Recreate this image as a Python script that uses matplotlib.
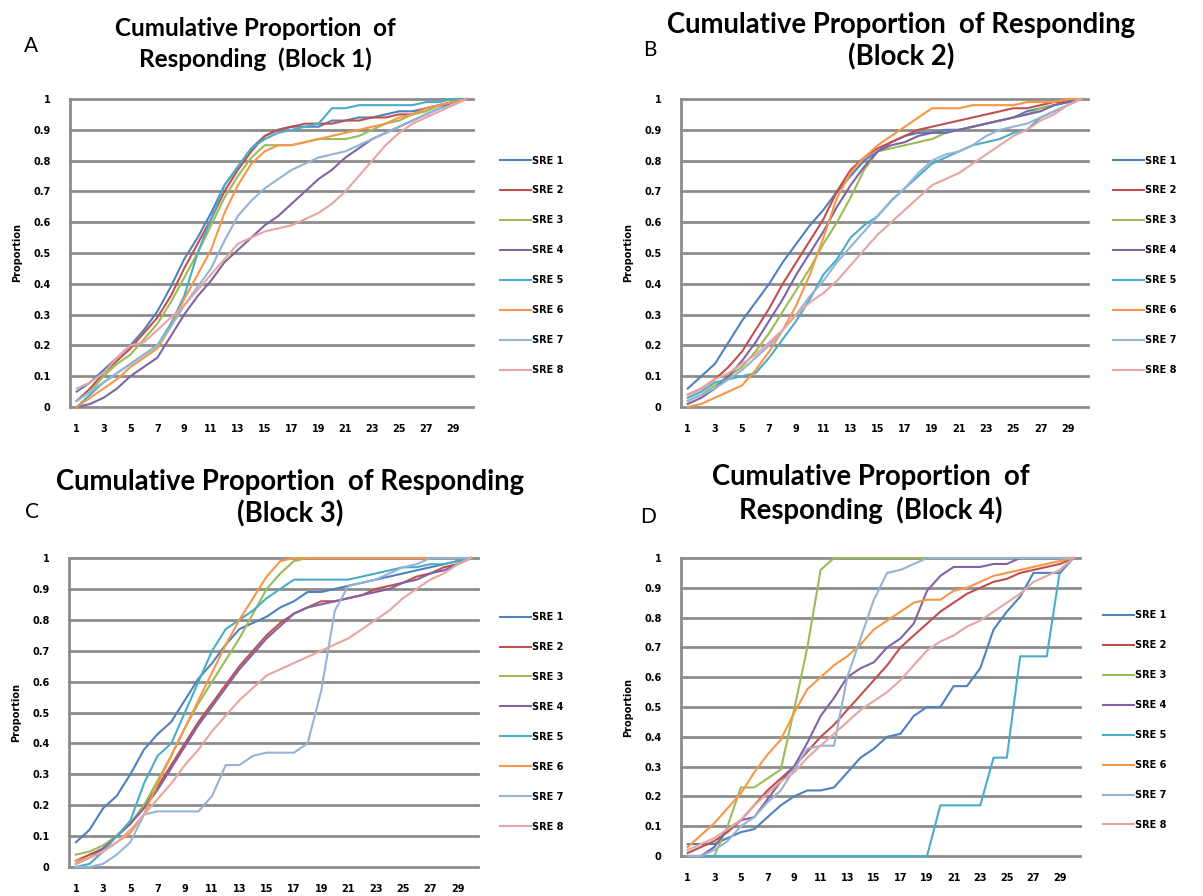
import numpy as np
import matplotlib
matplotlib.use('Agg')
import matplotlib.pyplot as plt

# trial numbers (categories on the x axis)
trials = np.arange(1, 31)
series_names = ['SRE 1', 'SRE 2', 'SRE 3', 'SRE 4', 'SRE 5', 'SRE 6', 'SRE 7', 'SRE 8']
series_colors = ['#4F81BD', '#C0504D', '#9BBB59', '#8064A2',
                 '#4BACC6', '#F79646', '#95B3D7', '#E6A5A3']

# Block 1
block1 = [
    [0.05, 0.08, 0.12, 0.16, 0.20, 0.25, 0.31, 0.39, 0.48, 0.55, 0.63, 0.72, 0.78, 0.84, 0.88,
     0.90, 0.91, 0.91, 0.91, 0.93, 0.93, 0.94, 0.94, 0.95, 0.96, 0.96, 0.97, 0.98, 0.99, 1.0],
    [0.02, 0.06, 0.11, 0.15, 0.19, 0.24, 0.29, 0.36, 0.45, 0.53, 0.61, 0.70, 0.77, 0.83, 0.88,
     0.90, 0.91, 0.92, 0.92, 0.92, 0.93, 0.93, 0.94, 0.94, 0.95, 0.95, 0.97, 0.98, 0.99, 1.0],
    [0.02, 0.05, 0.10, 0.14, 0.17, 0.22, 0.27, 0.34, 0.42, 0.50, 0.59, 0.68, 0.75, 0.81, 0.85,
     0.85, 0.85, 0.86, 0.87, 0.87, 0.87, 0.88, 0.90, 0.92, 0.93, 0.95, 0.96, 0.98, 0.99, 1.0],
    [0.00, 0.01, 0.03, 0.06, 0.10, 0.13, 0.16, 0.23, 0.30, 0.36, 0.41, 0.47, 0.51, 0.55, 0.59,
     0.62, 0.66, 0.70, 0.74, 0.77, 0.81, 0.84, 0.87, 0.89, 0.91, 0.93, 0.95, 0.97, 0.99, 1.0],
    [0.00, 0.04, 0.08, 0.11, 0.14, 0.17, 0.20, 0.27, 0.36, 0.50, 0.61, 0.72, 0.78, 0.84, 0.87,
     0.89, 0.90, 0.91, 0.92, 0.97, 0.97, 0.98, 0.98, 0.98, 0.98, 0.98, 0.99, 0.99, 1.0, 1.0],
    [0.00, 0.03, 0.06, 0.09, 0.13, 0.16, 0.19, 0.26, 0.35, 0.43, 0.51, 0.63, 0.72, 0.79, 0.83,
     0.85, 0.85, 0.86, 0.87, 0.88, 0.89, 0.90, 0.91, 0.92, 0.94, 0.95, 0.97, 0.98, 0.99, 1.0],
    [0.02, 0.05, 0.08, 0.11, 0.14, 0.17, 0.20, 0.26, 0.33, 0.39, 0.45, 0.54, 0.62, 0.67, 0.71,
     0.74, 0.77, 0.79, 0.81, 0.82, 0.83, 0.85, 0.87, 0.89, 0.91, 0.93, 0.95, 0.97, 0.98, 1.0],
    [0.06, 0.08, 0.11, 0.16, 0.20, 0.21, 0.25, 0.29, 0.33, 0.38, 0.43, 0.48, 0.53, 0.55, 0.57,
     0.58, 0.59, 0.61, 0.63, 0.66, 0.70, 0.75, 0.80, 0.85, 0.89, 0.92, 0.94, 0.96, 0.98, 1.0],
]

# Block 2
block2 = [
    [0.06, 0.10, 0.14, 0.21, 0.28, 0.34, 0.40, 0.47, 0.53, 0.59, 0.64, 0.70, 0.75, 0.80, 0.83,
     0.86, 0.88, 0.89, 0.89, 0.90, 0.90, 0.91, 0.92, 0.93, 0.94, 0.96, 0.97, 0.98, 0.99, 1.0],
    [0.04, 0.06, 0.09, 0.13, 0.18, 0.25, 0.32, 0.40, 0.47, 0.54, 0.61, 0.70, 0.77, 0.81, 0.84,
     0.86, 0.88, 0.90, 0.91, 0.92, 0.93, 0.94, 0.95, 0.96, 0.97, 0.97, 0.98, 0.99, 0.99, 1.0],
    [0.02, 0.04, 0.07, 0.10, 0.13, 0.18, 0.24, 0.31, 0.38, 0.45, 0.53, 0.60, 0.68, 0.77, 0.83,
     0.84, 0.85, 0.86, 0.87, 0.89, 0.90, 0.91, 0.92, 0.93, 0.94, 0.95, 0.97, 0.98, 0.99, 1.0],
    [0.01, 0.03, 0.06, 0.10, 0.15, 0.21, 0.28, 0.35, 0.43, 0.50, 0.57, 0.65, 0.72, 0.78, 0.83,
     0.85, 0.86, 0.88, 0.89, 0.89, 0.90, 0.91, 0.92, 0.93, 0.94, 0.95, 0.96, 0.98, 0.99, 1.0],
    [0.03, 0.05, 0.08, 0.09, 0.10, 0.11, 0.16, 0.22, 0.28, 0.35, 0.43, 0.48, 0.55, 0.59, 0.62,
     0.67, 0.71, 0.75, 0.79, 0.81, 0.83, 0.85, 0.86, 0.87, 0.89, 0.90, 0.94, 0.96, 0.98, 1.0],
    [0.00, 0.01, 0.03, 0.05, 0.07, 0.12, 0.18, 0.25, 0.33, 0.43, 0.55, 0.68, 0.76, 0.81, 0.85,
     0.88, 0.91, 0.94, 0.97, 0.97, 0.97, 0.98, 0.98, 0.98, 0.98, 0.99, 0.99, 0.99, 1.0, 1.0],
    [0.02, 0.04, 0.06, 0.09, 0.12, 0.16, 0.20, 0.25, 0.30, 0.36, 0.41, 0.47, 0.52, 0.57, 0.62,
     0.67, 0.71, 0.76, 0.80, 0.82, 0.83, 0.85, 0.88, 0.90, 0.91, 0.92, 0.94, 0.96, 0.98, 1.0],
    [0.04, 0.06, 0.09, 0.11, 0.14, 0.17, 0.21, 0.25, 0.30, 0.34, 0.37, 0.41, 0.46, 0.51, 0.56,
     0.60, 0.64, 0.68, 0.72, 0.74, 0.76, 0.79, 0.82, 0.85, 0.88, 0.90, 0.93, 0.95, 0.98, 1.0],
]

# Block 3
block3 = [
    [0.08, 0.12, 0.19, 0.23, 0.30, 0.38, 0.43, 0.47, 0.54, 0.61, 0.66, 0.72, 0.77, 0.79, 0.81,
     0.84, 0.86, 0.89, 0.89, 0.90, 0.91, 0.92, 0.93, 0.94, 0.95, 0.96, 0.97, 0.98, 0.99, 1.0],
    [0.02, 0.04, 0.06, 0.10, 0.14, 0.20, 0.26, 0.33, 0.40, 0.47, 0.53, 0.59, 0.65, 0.70, 0.75,
     0.79, 0.82, 0.84, 0.86, 0.86, 0.87, 0.88, 0.90, 0.91, 0.92, 0.94, 0.95, 0.97, 0.98, 1.0],
    [0.04, 0.05, 0.07, 0.10, 0.14, 0.20, 0.28, 0.36, 0.45, 0.53, 0.60, 0.67, 0.74, 0.82, 0.90,
     0.95, 0.99, 1.0, 1.0, 1.0, 1.0, 1.0, 1.0, 1.0, 1.0, 1.0, 1.0, 1.0, 1.0, 1.0],
    [0.01, 0.03, 0.06, 0.10, 0.14, 0.19, 0.25, 0.32, 0.39, 0.46, 0.52, 0.58, 0.64, 0.69, 0.74,
     0.78, 0.82, 0.84, 0.85, 0.86, 0.87, 0.88, 0.89, 0.90, 0.92, 0.93, 0.95, 0.96, 0.98, 1.0],
    [0.00, 0.01, 0.05, 0.10, 0.15, 0.27, 0.36, 0.40, 0.50, 0.60, 0.70, 0.77, 0.80, 0.83, 0.87,
     0.90, 0.93, 0.93, 0.93, 0.93, 0.93, 0.94, 0.95, 0.96, 0.97, 0.97, 0.98, 0.98, 0.99, 1.0],
    [0.02, 0.03, 0.05, 0.08, 0.11, 0.17, 0.27, 0.36, 0.45, 0.54, 0.63, 0.72, 0.80, 0.87, 0.94,
     0.99, 1.0, 1.0, 1.0, 1.0, 1.0, 1.0, 1.0, 1.0, 1.0, 1.0, 1.0, 1.0, 1.0, 1.0],
    [0.00, 0.00, 0.01, 0.04, 0.08, 0.17, 0.18, 0.18, 0.18, 0.18, 0.23, 0.33, 0.33, 0.36, 0.37,
     0.37, 0.37, 0.40, 0.57, 0.83, 0.91, 0.92, 0.93, 0.95, 0.97, 0.98, 1.0, 1.0, 1.0, 1.0],
    [0.01, 0.03, 0.05, 0.08, 0.12, 0.17, 0.22, 0.27, 0.33, 0.38, 0.44, 0.49, 0.54, 0.58, 0.62,
     0.64, 0.66, 0.68, 0.70, 0.72, 0.74, 0.77, 0.80, 0.83, 0.87, 0.90, 0.93, 0.95, 0.98, 1.0],
]

# Block 4
block4 = [
    [0.04, 0.04, 0.04, 0.06, 0.08, 0.09, 0.13, 0.17, 0.20, 0.22, 0.22, 0.23, 0.28, 0.33, 0.36,
     0.40, 0.41, 0.47, 0.50, 0.50, 0.57, 0.57, 0.63, 0.76, 0.82, 0.87, 0.95, 0.95, 0.95, 1.0],
    [0.01, 0.03, 0.05, 0.08, 0.12, 0.17, 0.22, 0.26, 0.30, 0.35, 0.40, 0.44, 0.49, 0.54, 0.59,
     0.64, 0.70, 0.74, 0.78, 0.82, 0.85, 0.88, 0.90, 0.92, 0.93, 0.95, 0.96, 0.97, 0.98, 1.0],
    [0.00, 0.00, 0.00, 0.10, 0.23, 0.23, 0.26, 0.29, 0.49, 0.70, 0.96, 1.0, 1.0, 1.0, 1.0,
     1.0, 1.0, 1.0, 1.0, 1.0, 1.0, 1.0, 1.0, 1.0, 1.0, 1.0, 1.0, 1.0, 1.0, 1.0],
    [0.00, 0.00, 0.03, 0.09, 0.12, 0.13, 0.19, 0.25, 0.30, 0.38, 0.47, 0.53, 0.60, 0.63, 0.65,
     0.70, 0.73, 0.78, 0.89, 0.94, 0.97, 0.97, 0.97, 0.98, 0.98, 1.0, 1.0, 1.0, 1.0, 1.0],
    [0.0, 0.0, 0.0, 0.0, 0.0, 0.0, 0.0, 0.0, 0.0, 0.0, 0.0, 0.0, 0.0, 0.0, 0.0,
     0.0, 0.0, 0.0, 0.0, 0.17, 0.17, 0.17, 0.17, 0.33, 0.33, 0.67, 0.67, 0.67, 0.96, 1.0],
    [0.03, 0.07, 0.11, 0.16, 0.21, 0.28, 0.34, 0.39, 0.48, 0.56, 0.60, 0.64, 0.67, 0.71, 0.76,
     0.79, 0.82, 0.85, 0.86, 0.86, 0.89, 0.90, 0.92, 0.94, 0.95, 0.96, 0.97, 0.98, 0.99, 1.0],
    [0.00, 0.00, 0.02, 0.05, 0.10, 0.13, 0.18, 0.22, 0.29, 0.36, 0.37, 0.37, 0.60, 0.73, 0.86,
     0.95, 0.96, 0.98, 1.0, 1.0, 1.0, 1.0, 1.0, 1.0, 1.0, 1.0, 1.0, 1.0, 1.0, 1.0],
    [0.02, 0.04, 0.06, 0.09, 0.12, 0.17, 0.21, 0.25, 0.28, 0.33, 0.37, 0.41, 0.45, 0.49, 0.52,
     0.55, 0.59, 0.64, 0.69, 0.72, 0.74, 0.77, 0.79, 0.82, 0.85, 0.88, 0.92, 0.94, 0.96, 1.0],
]

titles = ['Cumulative Proportion  of\nResponding  (Block 1)',
          'Cumulative Proportion  of Responding\n(Block 2)',
          'Cumulative Proportion  of Responding\n(Block 3)',
          'Cumulative Proportion  of\nResponding  (Block 4)']
letters = ['A', 'B', 'C', 'D']

W, H = 1203, 896
fig = plt.figure(figsize=(W / 100, H / 100), dpi=100)
fig.patch.set_facecolor('white')

# axes boxes in pixels: left, right, top, bottom
boxes = [(70, 473, 99, 407), (681, 1088, 99, 407),
         (69, 478, 558, 867), (681, 1080, 558, 856)]
title_pos = [(255, 44), (901, 41), (290, 498), (871, 494)]
title_size = [17.5, 19.8, 19.8, 19.8]
title_spacing = [1.4, 1.25, 1.25, 1.25]
letter_pos = [(31, 46), (650, 50), (32, 512), (648, 517)]
legend_x = [1.067, 1.061, 1.054, 1.058]
legend_y = [0.46, 0.46, 0.47, 0.456]

grid_col = '#8C8C8C'
blocks = [block1, block2, block3, block4]

for k, data in enumerate(blocks):
    l, r, t, b = boxes[k]
    ax = fig.add_axes([l / W, 1 - b / H, (r - l) / W, (b - t) / H])
    for vals, name, col in zip(data, series_names, series_colors):
        ax.plot(trials, vals, color=col, lw=1.5, label=name, clip_on=False)
    ax.set_xlim(0.5, 30.5)
    ax.set_ylim(0, 1)
    ax.set_yticks(np.arange(0, 1.01, 0.1))
    ax.set_yticklabels(['0'] + ['%.1f' % v for v in np.arange(0.1, 0.95, 0.1)] + ['1'])
    ax.set_xticks(trials[::2])
    ax.set_xticklabels([str(v) for v in trials[::2]])
    ax.tick_params(length=0, labelsize=7, pad=12)
    ax.tick_params(axis='y', pad=14)
    for lab in ax.get_xticklabels() + ax.get_yticklabels():
        lab.set_fontweight('bold')
    for v in np.arange(0, 1.01, 0.1):
        ax.axhline(v, color=grid_col, lw=2, zorder=0, clip_on=False)
    for s in ['top', 'right', 'bottom']:
        ax.spines[s].set_visible(False)
    ax.spines['left'].set_color(grid_col)
    ax.spines['left'].set_linewidth(2)
    ax.set_ylabel('Proportion', fontsize=7, fontweight='bold', labelpad=8)

    leg = ax.legend(loc='center left', bbox_to_anchor=(legend_x[k], legend_y[k]),
                    frameon=False, fontsize=7, handlelength=3.2, handletextpad=0.1,
                    labelspacing=2.05, borderpad=0, borderaxespad=0)
    for txt in leg.get_texts():
        txt.set_fontweight('bold')

    tx, ty = title_pos[k]
    fig.text(tx / W, 1 - ty / H, titles[k], ha='center', va='center',
             fontsize=title_size[k], fontweight='bold', family='Lato',
             linespacing=title_spacing[k])
    lx, ly = letter_pos[k]
    fig.text(lx / W, 1 - ly / H, letters[k], ha='center', va='center', fontsize=15,
             family='Lato')

fig.savefig('out.png', dpi=100)
